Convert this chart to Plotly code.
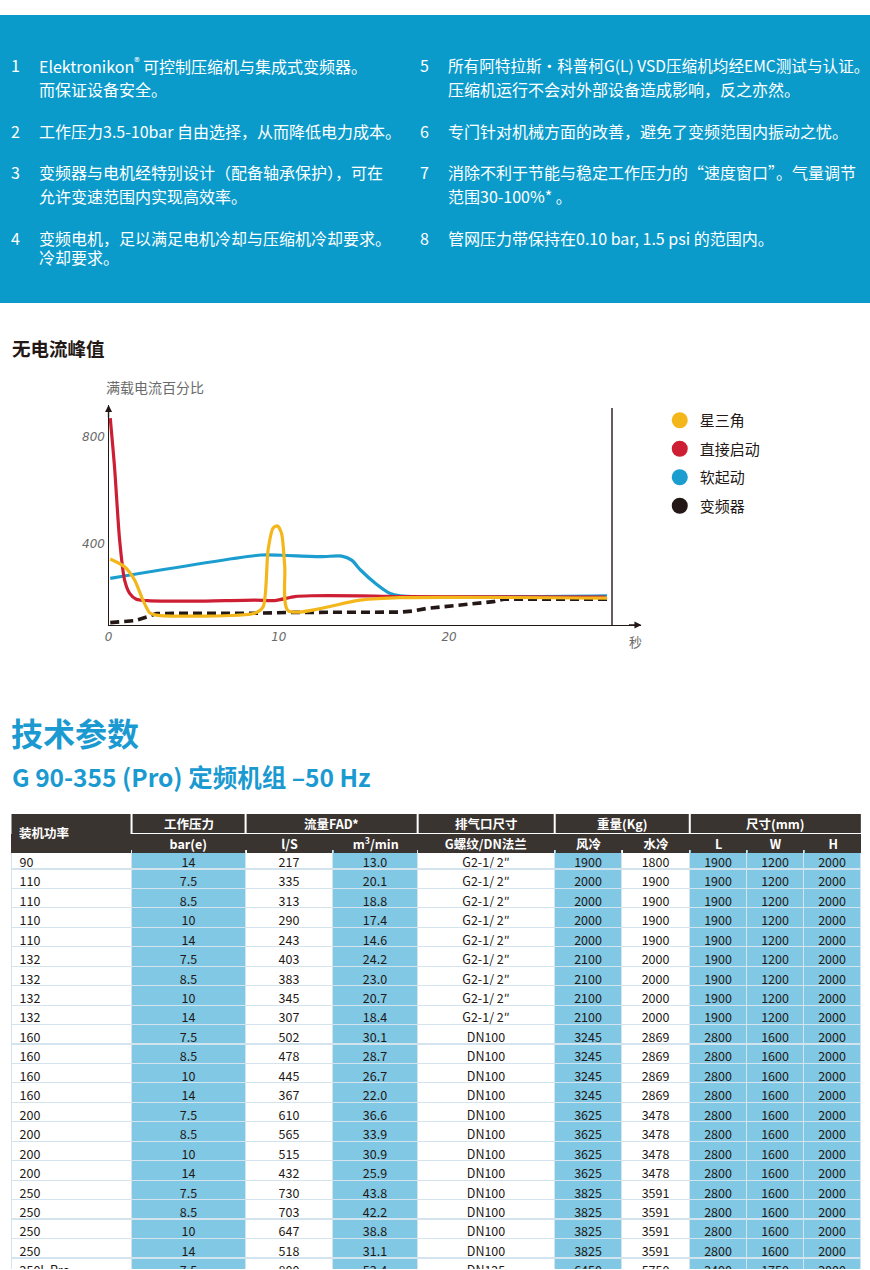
import plotly.graph_objects as go

W, H = 870, 1270
OFFX, SCX = 4.5, 0.995   # compensates the horizontal offset seen in the rendered page
def px(x): return (x - OFFX) / SCX / W
def py(y): return 1 - y / H

# ---------------- chart data (seconds, % of full-load current) ----------------
series_names = ["星三角", "直接启动", "软起动", "变频器"]
series_colors = ["#F4B71B", "#CD1E34", "#1C9DCF", "#231815"]

t_star = [0.1, 0.94, 1.53, 2.02, 2.41, 2.81, 8.59, 9.08, 9.37, 9.66, 9.92, 10.16, 10.35, 10.55, 14.76, 17.1, 29.28]
v_star = [344, 315, 266, 191, 144, 135, 142, 166, 378, 459, 467, 440, 315, 151, 191, 200, 198]

t_dol = [0.1, 0.35, 0.65, 0.94, 1.24, 1.63, 2.31, 5.06, 8.59, 9.76, 10.94, 11.92, 15.65, 17.1, 29.2]
v_dol = [869, 688, 415, 266, 216, 194, 189, 187, 191, 189, 204, 207, 206, 204, 202]

t_soft = [0.1, 8.98, 10.16, 12.51, 13.69, 14.28, 14.8, 15.7, 16.53, 17.12, 29.28]
v_soft = [272, 359, 358, 353, 355, 340, 303, 252, 216, 207, 207]

t_vsd = [0.1, 1.53, 2.31, 2.81, 8.59, 10.94, 17.1, 17.9, 18.7, 20.6, 22.6, 23.2, 29.5]
v_vsd = [107, 114, 129, 141, 142, 145, 146, 150, 160, 173, 185, 194, 194]

x_ticks = [0, 10, 20]
y_ticks = [400, 800]
t_end = 29.57

# ---------------- table data ----------------
col_power = ["90", "110", "110", "110", "110", "132", "132", "132", "132", "160", "160", "160", "160",
             "200", "200", "200", "200", "250", "250", "250", "250", "250L Pro"]
col_pressure = ["14", "7.5", "8.5", "10", "14", "7.5", "8.5", "10", "14", "7.5", "8.5", "10", "14",
                "7.5", "8.5", "10", "14", "7.5", "8.5", "10", "14", "7.5"]
col_fad_ls = ["217", "335", "313", "290", "243", "403", "383", "345", "307", "502", "478", "445", "367",
              "610", "565", "515", "432", "730", "703", "647", "518", "800"]
col_fad_m3 = ["13.0", "20.1", "18.8", "17.4", "14.6", "24.2", "23.0", "20.7", "18.4", "30.1", "28.7", "26.7", "22.0",
              "36.6", "33.9", "30.9", "25.9", "43.8", "42.2", "38.8", "31.1", "53.4"]
col_outlet = ["G2-1/ 2″", "G2-1/ 2″", "G2-1/ 2″", "G2-1/ 2″", "G2-1/ 2″", "G2-1/ 2″", "G2-1/ 2″", "G2-1/ 2″", "G2-1/ 2″",
              "DN100", "DN100", "DN100", "DN100", "DN100", "DN100", "DN100", "DN100", "DN100", "DN100", "DN100", "DN100", "DN125"]
col_w_air = ["1900", "2000", "2000", "2000", "2000", "2100", "2100", "2100", "2100", "3245", "3245", "3245", "3245",
             "3625", "3625", "3625", "3625", "3825", "3825", "3825", "3825", "6450"]
col_w_water = ["1800", "1900", "1900", "1900", "1900", "2000", "2000", "2000", "2000", "2869", "2869", "2869", "2869",
               "3478", "3478", "3478", "3478", "3591", "3591", "3591", "3591", "5750"]
col_L = ["1900", "1900", "1900", "1900", "1900", "1900", "1900", "1900", "1900", "2800", "2800", "2800", "2800",
         "2800", "2800", "2800", "2800", "2800", "2800", "2800", "2800", "2400"]
col_W = ["1200", "1200", "1200", "1200", "1200", "1200", "1200", "1200", "1200", "1600", "1600", "1600", "1600",
         "1600", "1600", "1600", "1600", "1600", "1600", "1600", "1600", "1750"]
col_H = ["2000", "2000", "2000", "2000", "2000", "2000", "2000", "2000", "2000", "2000", "2000", "2000", "2000",
         "2000", "2000", "2000", "2000", "2000", "2000", "2000", "2000", "2000"]

header_top = ["装机功率", "工作压力", "流量FAD*", "排气口尺寸", "重量(Kg)", "尺寸(mm)"]
header_sub = ["", "bar(e)", "l/S", "m<sup>3</sup>/min", "G螺纹/DN法兰", "风冷", "水冷", "L", "W", "H"]

banner_left = [("1", ["Elektronikon<sup>®</sup> 可控制压缩机与集成式变频器。", "而保证设备安全。"]),
               ("2", ["工作压力3.5-10bar 自由选择，从而降低电力成本。"]),
               ("3", ["变频器与电机经特别设计（配备轴承保护），可在", "允许变速范围内实现高效率。"]),
               ("4", ["变频电机，足以满足电机冷却与压缩机冷却要求。", "冷却要求。"])]
banner_right = [("5", ["所有阿特拉斯·科普柯G(L) VSD压缩机均经EMC测试与认证。", "压缩机运行不会对外部设备造成影响，反之亦然。"]),
                ("6", ["专门针对机械方面的改善，避免了变频范围内振动之忧。"]),
                ("7", ["消除不利于节能与稳定工作压力的“速度窗口”。气量调节", "范围30-100%* 。"]),
                ("8", ["管网压力带保持在0.10 bar, 1.5 psi 的范围内。"])]

# ---------------- styles ----------------
FONT = "Noto Sans CJK SC, Noto Sans, sans-serif"
NARROW = "Liberation Sans Narrow, Noto Sans CJK SC, sans-serif"
BANNER = "#0B9BCB"
HEAD_BLUE = "#1A9AD0"
DARK = "#3A3431"
CELL_BLUE = "#80C8E4"
INK = "#231815"

fig = go.Figure()

# draw order: vsd, soft, dol, star
line_data = [(t_vsd, v_vsd, 3), (t_soft, v_soft, 2), (t_dol, v_dol, 1), (t_star, v_star, 0)]
for tt, vv, i in line_data:
    fig.add_trace(go.Scatter(
        x=tt, y=vv, mode="lines", showlegend=False, hoverinfo="skip",
        line=dict(color=series_colors[i], width=3.6 if i == 3 else 3.2,
                  dash="9px,5px" if i == 3 else "solid",
                  shape="linear" if i == 3 else "spline", smoothing=0.7),
        xaxis="x", yaxis="y"))

for i, name in enumerate(series_names):
    fig.add_trace(go.Scatter(
        x=[None], y=[None], mode="markers", name=name, legendgroup=name,
        marker=dict(color=series_colors[i], size=17, symbol="circle"),
        xaxis="x", yaxis="y"))

# table (column edges in page pixels)
col_edges = [12, 132, 246, 333, 418, 555, 622, 690, 747, 804, 861]
col_widths = [b - a for a, b in zip(col_edges[:-1], col_edges[1:])]
fills = ["white", CELL_BLUE, "white", CELL_BLUE, "white", CELL_BLUE, "white", CELL_BLUE, CELL_BLUE, CELL_BLUE]
fig.add_trace(go.Table(
    domain=dict(x=[px(12), px(861)], y=[0, py(834)]),
    columnwidth=col_widths,
    header=dict(values=[""] * len(header_sub),
                fill_color=DARK, align="center", height=15.5,
                line=dict(color=DARK, width=1),
                font=dict(color="white", size=12, family=FONT)),
    cells=dict(values=[col_power, col_pressure, col_fad_ls, col_fad_m3, col_outlet,
                       col_w_air, col_w_water, col_L, col_W, col_H],
               fill_color=fills, height=19.45,
               align=["left"] + ["center"] * 9,
               line=dict(color="#D3E4EE", width=1.2),
               font=dict(color=INK, size=12.5, family=NARROW))))

shapes = []
annotations = []

def txt(x, y, text, size, color, anchor="left", bold=False, **kw):
    d = dict(x=px(x), y=py(y), xref="paper", yref="paper",
             text=("<b>%s</b>" % text) if bold else text,
             showarrow=False, xanchor=anchor, yanchor="middle",
             font=dict(color=color, size=size, family=FONT))
    d.update(kw)
    annotations.append(d)

# banner
shapes.append(dict(type="rect", xref="paper", yref="paper", x0=px(0) - 0.01, x1=1.01, y0=py(303), y1=py(15),
                   fillcolor=BANNER, line=dict(width=0), layer="below"))
row_ys = [65, 131, 172, 238]
for col_items, nx, tx in [(banner_left, 9, 37), (banner_right, 418, 446)]:
    for (num, lines), y0 in zip(col_items, row_ys):
        txt(nx, y0, num, 16, "white")
        for k, ln in enumerate(lines):
            gap = 24 if not (num == "4" and k == 1) else 19
            size = 15.6 if (num == "5" and k == 0) else 16
            txt(tx, y0 + gap * k, ln, size, "white")

# headings
txt(10, 348, "无电流峰值", 18.5, INK, bold=True)
txt(104, 387, "满载电流百分比", 14, "#6a6a6a")
txt(636, 641, "秒", 13, "#6a6a6a", anchor="center")
txt(9, 732, "技术参数", 32, HEAD_BLUE, bold=True)
txt(10, 776, "G 90-355 (Pro) 定频机组 –50 Hz", 24.5, HEAD_BLUE, bold=True)

# axis arrows and right boundary line
annotations.append(dict(x=0, y=918, xref="x", yref="y", ax=0, ay=14,
                        text="", showarrow=True, arrowhead=2, arrowsize=1, arrowwidth=1.4, arrowcolor=INK))
annotations.append(dict(x=31.3, y=98, xref="x", yref="y", ax=-14, ay=0,
                        text="", showarrow=True, arrowhead=2, arrowsize=1, arrowwidth=1.4, arrowcolor=INK))
shapes.append(dict(type="line", xref="x", yref="y", x0=t_end, x1=t_end, y0=98, y1=907,
                   line=dict(color=INK, width=1.4)))

# table header: top row (merged groups)
groups = [(12, 131, 853, header_top[0]), (133, 245, 833, header_top[1]), (247, 417, 833, header_top[2]),
          (419, 554, 833, header_top[3]), (556, 689, 833, header_top[4]), (691, 861, 833, header_top[5])]
for i, (x0, x1, yb, label) in enumerate(groups):
    shapes.append(dict(type="rect", xref="paper", yref="paper", x0=px(x0), x1=px(x1), y0=py(yb), y1=py(814),
                       fillcolor=DARK, line=dict(width=0), layer="below"))
# second header row: dark label boxes
for j, label in enumerate(header_sub):
    x0, x1 = col_edges[j], col_edges[j + 1]
    if j == 0:
        x1 -= 1
    else:
        x0 += 1
        x1 -= 1 if j < len(header_sub) - 1 else 0
    txt((x0 + x1) / 2, 843.5, label if label else "\u00a0", 12.5, "white", anchor="center", bold=bool(label),
        width=(x1 - x0) / SCX, height=19, bgcolor=DARK, borderpad=0, borderwidth=0, valign="middle")
for i, (x0, x1, yb, label) in enumerate(groups):
    if i == 0:
        txt(17, 832, label, 12.5, "white", bold=True)
    else:
        txt((x0 + x1) / 2, 823.5, label, 12.5, "white", anchor="center", bold=True)

fig.update_layout(
    width=W, height=H, margin=dict(l=0, r=0, t=0, b=0),
    paper_bgcolor="white", plot_bgcolor="white",
    font=dict(family=FONT, color=INK),
    xaxis=dict(domain=[px(109), px(641.7)], range=[0, 31.3], showgrid=False, zeroline=False,
               showline=True, linecolor=INK, linewidth=1.4, ticks="", tickvals=x_ticks,
               tickfont=dict(size=12, color="#6a6a6a", style="italic", family="DejaVu Sans"),
               fixedrange=True),
    yaxis=dict(domain=[py(625), py(405)], range=[98, 918], showgrid=False, zeroline=False,
               showline=True, linecolor=INK, linewidth=1.4, ticks="", tickvals=y_ticks,
               tickfont=dict(size=12, color="#6a6a6a", style="italic", family="DejaVu Sans"),
               fixedrange=True),
    legend=dict(x=px(660), y=py(404), xanchor="left", yanchor="top", tracegroupgap=6,
                font=dict(size=15, color=INK, family=FONT), bgcolor="rgba(0,0,0,0)", itemsizing="trace"),
    shapes=shapes, annotations=annotations,
)

fig.write_html("out.html", config={"displayModeBar": False},
               post_script="document.documentElement.style.margin='0';document.body.style.margin='0';"
                           "document.body.style.padding='0';document.body.style.overflow='hidden';")
